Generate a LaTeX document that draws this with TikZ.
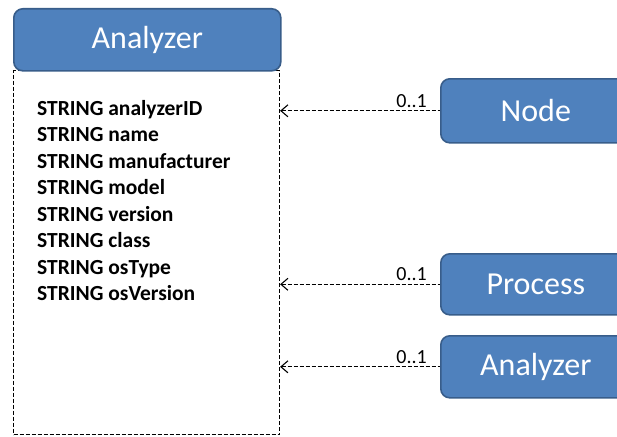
\documentclass[tikz,border=0pt]{standalone}
\usepackage{fontspec}
\setmainfont{Carlito}
\usetikzlibrary{arrows.meta}
\definecolor{boxfill}{HTML}{4F81BD}
\definecolor{boxedge}{HTML}{385D8A}
\begin{document}
\begin{tikzpicture}[x=1pt,y=-1pt,
  bluebox/.style={draw=boxedge, line width=1.6pt, fill=boxfill, rounded corners=9pt,
    text=white, font=\fontsize{32}{34}\selectfont, inner sep=0pt, anchor=north west},
  dsh/.style={dash pattern=on 4pt off 2pt, line width=1.1pt},
  conn/.style={dsh, {Straight Barb[length=7pt,width=12pt]}-},
  mult/.style={font=\fontsize{20}{22}\selectfont, anchor=south east, inner sep=1pt}]
\useasboundingbox (0,0) rectangle (617,436);
\node[draw, dsh, anchor=north west, minimum width=266pt, minimum height=364pt, inner sep=0pt] (body) at (13,70) {};
\node[bluebox, minimum width=267pt, minimum height=62pt] (head) at (13,8) {Analyzer};
\node[anchor=north west, align=left, font=\bfseries\fontsize{21.5}{26.5}\selectfont, inner sep=0pt] (attrs) at (37,100)
 {STRING analyzerID\\STRING name\\STRING manufacturer\\STRING model\\STRING version\\STRING class\\STRING osType\\STRING osVersion};
\node[bluebox, minimum width=190pt, minimum height=64pt] (node) at (440,78) {Node};
\node[bluebox, minimum width=190pt, minimum height=61pt] (proc) at (440,253) {Process};
\node[bluebox, minimum width=190pt, minimum height=62pt] (anl) at (440,335) {Analyzer};
\coordinate (t1) at (body.east |- node.west);
\coordinate (t2) at (body.east |- proc.west);
\coordinate (t3) at (body.east |- anl.west);
\draw[conn] (t1) -- (node.west);
\draw[conn] (t2) -- (proc.west);
\draw[conn] (t3) -- (anl.west);
\node[mult] (m1) at ([shift={(-12,-2)}]node.west) {0..1};
\node[mult] (m2) at ([shift={(-12,-2)}]proc.west) {0..1};
\node[mult] (m3) at ([shift={(-12,-2)}]anl.west) {0..1};
\end{tikzpicture}
\end{document}
